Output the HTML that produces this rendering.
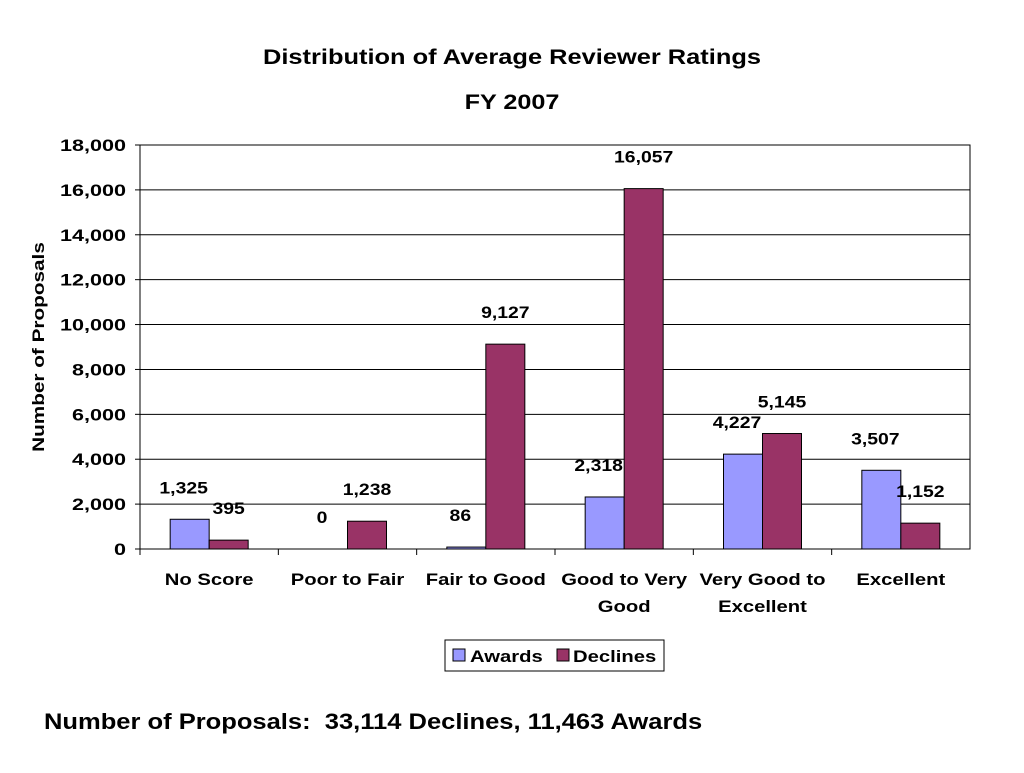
<!DOCTYPE html>
<html><head><meta charset="utf-8"><style>
body{margin:0;background:#fff;font-family:"Liberation Sans",Arial,sans-serif;}
svg text{font-family:"Liberation Sans",Arial,sans-serif;font-weight:bold;fill:#000;}
</style></head><body>
<svg id="chart" width="1024" height="768" xmlns="http://www.w3.org/2000/svg">
<text class="w" data-f="1.21" x="512" y="64" font-size="21" text-anchor="middle">Distribution of Average Reviewer Ratings</text>
<text class="w" data-f="1.2" x="512" y="109" font-size="21" text-anchor="middle">FY 2007</text>
<text class="w" data-f="1.22" transform="translate(44,347) rotate(-90)" font-size="17" text-anchor="middle">Number of Proposals</text>
<g id="grid"></g><g id="bars"></g><g id="labels"></g>
<rect x="140" y="145" width="830" height="404" fill="none" stroke="#000" stroke-width="1"/>
<g>
<rect x="445" y="640" width="219" height="31" fill="#fff" stroke="#000"/>
<rect x="453" y="649" width="12" height="12" fill="#9999ff" stroke="#000"/>
<text class="w" data-f="1.19" x="470" y="662" font-size="17">Awards</text>
<rect x="557" y="649" width="12" height="12" fill="#993366" stroke="#000"/>
<text class="w" data-f="1.19" x="573" y="662" font-size="17">Declines</text>
</g>
<text class="w" data-f="1.16" x="44" y="729" font-size="22" xml:space="preserve">Number of Proposals:  33,114 Declines, 11,463 Awards</text>
</svg>
<script>
const categories=[["No Score"],["Poor to Fair"],["Fair to Good"],["Good to Very","Good"],["Very Good to","Excellent"],["Excellent"]];
const awards=[1325,0,86,2318,4227,3507];
const declines=[395,1238,9127,16057,5145,1152];
const yTicks=[0,2000,4000,6000,8000,10000,12000,14000,16000,18000];
const NS="http://www.w3.org/2000/svg";
const L=140,R=970,T=145,B=549,YMAX=18000;
const y=v=>B-(v/YMAX)*(B-T);
const bw=(R-L)/categories.length;
const xc=i=>L+bw*(i+0.5);
const barW=39;
function mk(tag,attrs,parent){const e=document.createElementNS(NS,tag);for(const k in attrs)e.setAttribute(k,attrs[k]);document.getElementById(parent).appendChild(e);return e;}
const fmt=v=>v.toLocaleString('en-US');
yTicks.forEach(t=>{
  const l=mk('line',{x1:L,x2:R,y1:y(t),y2:y(t),stroke:'#000','stroke-width':1},'grid');
  
  
  const tk=mk('line',{x1:L-5,x2:L,y1:y(t),y2:y(t),stroke:'#000'},'grid');
  
  
  const tx=mk('text',{x:L-14,y:y(t)+6,'font-size':17,'text-anchor':'end',class:'w','data-f':'1.27'},'grid');
  tx.textContent=fmt(t);
  
  
});
categories.forEach((c,i)=>{
  const tk=mk('line',{x1:L+bw*i,x2:L+bw*i,y1:B,y2:B+6,stroke:'#000'},'grid');
  
  
  c.forEach((ln,j)=>{
    const tx=mk('text',{x:xc(i),y:585+j*27,'font-size':17,'text-anchor':'middle',class:'w','data-f':'1.19'},'grid');
    tx.textContent=ln;
    
    
  });
  [[awards,'#9999ff',-barW,'award',-6],[declines,'#993366',0,'decline',0]].forEach(([arr,col,off,nm,dx])=>{
    const v=arr[i];
    const r=mk('rect',{x:xc(i)+off,y:y(v),width:barW,height:B-y(v),fill:col,stroke:'#000','stroke-width':1},'bars');
    
    
    const tx=mk('text',{x:xc(i)+off+barW/2+dx,y:y(v)-26,'font-size':17,'text-anchor':'middle',class:'w','data-f':'1.14'},'labels');
    tx.textContent=fmt(v);
    
    
  });
});
document.querySelectorAll('text.w').forEach(t=>{
  const f=parseFloat(t.getAttribute('data-f'));
  const w=t.getComputedTextLength();
  if(w>0){t.setAttribute('textLength',(w*f).toFixed(1));t.setAttribute('lengthAdjust','spacingAndGlyphs');}
});
</script>
</body></html>
